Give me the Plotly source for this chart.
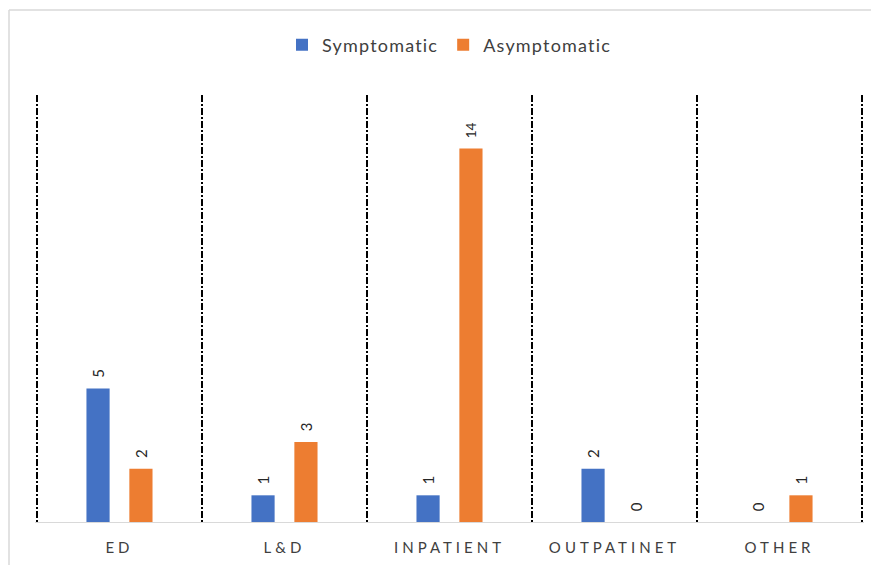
import plotly.graph_objects as go

categories = ["ED", "L&D", "INPATIENT", "OUTPATINET", "OTHER"]
symptomatic = [5, 1, 1, 2, 0]
asymptomatic = [2, 3, 14, 0, 1]

# the page body adds an 8px margin on every side, so the figure is drawn smaller
OFF = 8
W, H = 879 - 2 * OFF, 573 - 2 * OFF
ml, mr, mt, mb = 37 - OFF - 2, 17 - OFF - 2, 95 - OFF, 51 - OFF
pw = W - ml - mr
ph = H - mt - mb

def spaced(s, px):
    return '<span style="letter-spacing:%spx">%s</span>' % (px, s)

lbl_font = dict(size=15, color="#262626", family="Lato")

fig = go.Figure()
fig.add_trace(go.Bar(
    name=spaced("Symptomatic", 1.2), x=categories, y=symptomatic,
    marker=dict(color="#4472C4", line=dict(width=0)),
    text=["\u00a0\u00a0" + str(v) for v in symptomatic],
    textposition="outside", textangle=-90,
    textfont=lbl_font, cliponaxis=False,
))
fig.add_trace(go.Bar(
    name=spaced("Asymptomatic", 1.2), x=categories, y=asymptomatic,
    marker=dict(color="#ED7D31", line=dict(width=0)),
    text=["\u00a0\u00a0" + str(v) for v in asymptomatic],
    textposition="outside", textangle=-90,
    textfont=lbl_font, cliponaxis=False,
))

# light outer frame of the chart area (only its top and left edges are in view)
fx0 = (1 - ml) / pw
fy1 = (H - mb - (10 - OFF)) / ph
frame = dict(color="#d9d9d9", width=1.5)
fig.add_shape(type="line", xref="paper", yref="paper",
              x0=fx0, x1=1.3, y0=fy1, y1=fy1, line=frame, layer="below")
fig.add_shape(type="line", xref="paper", yref="paper",
              x0=fx0, x1=fx0, y0=-0.4, y1=fy1, line=frame, layer="below")

fig.update_layout(
    width=W, height=H,
    margin=dict(l=ml, r=mr, t=mt, b=mb),
    paper_bgcolor="white", plot_bgcolor="white",
    barmode="group", bargap=0.48, bargroupgap=0.46,
    font=dict(family="Lato", color="#404040"),
    showlegend=True,
    legend=dict(orientation="h", x=0.5, xanchor="center", xref="paper",
                y=1 - (45 - OFF) / H, yref="container", yanchor="middle",
                font=dict(size=18, color="#404040"),
                traceorder="normal"),
    xaxis=dict(
        tickson="boundaries", showgrid=True, gridcolor="#000000", gridwidth=2,
        griddash="7px,2px,2px,2px",
        range=[-0.512, 4.512],
        tickmode="array", tickvals=categories,
        ticktext=[spaced(c, 4) for c in categories],
        showline=True, linecolor="#d9d9d9", linewidth=1,
        ticks="", ticklabelstandoff=12,
        tickfont=dict(size=15, color="#404040", family="Lato"),
        zeroline=False,
    ),
    yaxis=dict(range=[0, 16], showgrid=False, showticklabels=False, zeroline=False,
               showline=False, ticks=""),
)

fig.write_html("out.html")
